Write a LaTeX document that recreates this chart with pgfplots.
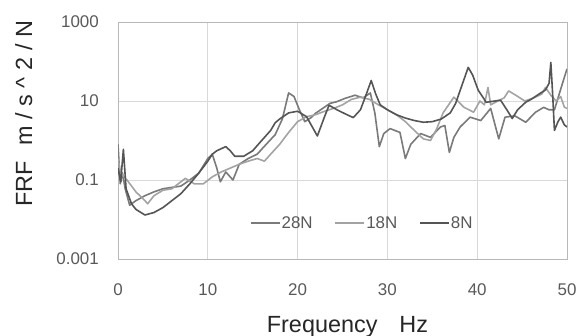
\documentclass[border=0pt]{standalone}
\usepackage{pgfplots}
\pgfplotsset{compat=1.18}
\usepackage{fontspec}
\setmainfont{Liberation Sans}
\definecolor{cA}{HTML}{7A7A7A}
\definecolor{cB}{HTML}{A3A3A3}
\definecolor{cC}{HTML}{555555}
\definecolor{gridc}{HTML}{D9D9D9}
\definecolor{tickc}{HTML}{595959}
\begin{document}
\begin{tikzpicture}
\useasboundingbox (0,0) rectangle (579bp,336bp);
\begin{axis}[
  at={(118bp,77bp)}, anchor=south west,
  scale only axis, width=449bp, height=237bp,
  ymode=log, xmin=0, xmax=50, ymin=0.001, ymax=1000,
  xtick={0,10,20,30,40,50},
  ytick={0.001,0.1,10,1000},
  yticklabels={0.001,0.1,10,1000},
  minor ytick={}, 
  major tick length=0pt,
  grid=major, major grid style={gridc, line width=0.8bp},
  axis line style={gridc!85!black, line width=0.8bp},
  /pgf/number format/assume math mode=true,
  tick label style={font=\fontsize{17}{18}\selectfont, text=tickc},
  yticklabel style={anchor=east, inner sep=0pt, xshift=-19bp},
  xticklabel style={anchor=north, inner sep=0pt, yshift=-24bp},
  xlabel={Frequency\hspace{22bp}Hz},
  ylabel={FRF\hspace{16bp}{\addfontfeature{LetterSpace=28}m/s\^{}2/N}},
  label style={font=\fontsize{23.5}{24}\selectfont, text=black!85},
  xlabel style={at={(axis description cs:0.5,0)}, anchor=base, yshift=-73bp, xshift=5bp},
  ylabel style={at={(axis description cs:-0.1915,0.612)}, anchor=base},
  legend columns=3,
  legend style={draw=none, fill=none, at={(axis description cs:0.543,0.152)}, anchor=center,
    font=\fontsize{17}{18}\selectfont, text=tickc,
    nodes={inner sep=1bp},
    /tikz/every even column/.append style={column sep=21bp}},
  legend image code/.code={\draw[#1] (0bp,0bp) -- (29bp,0bp);},
  every axis plot/.append style={line width=1.6bp, line join=round},
]
\addplot[cA] coordinates {
(0,0.8)(0.25,0.08)(0.5,0.15)(0.8,0.06)(1.3,0.023)(2,0.03)(3,0.04)(4,0.05)(5,0.06)(6,0.065)(7,0.07)(8,0.1)(9,0.15)(10,0.35)(10.5,0.45)(11,0.2)(11.4,0.09)(12,0.16)(12.8,0.1)(13.5,0.25)(14.5,0.35)(15.5,0.45)(16.5,0.8)(17.5,1.4)(18.3,3.5)(19,16)(19.6,13)(20.2,6)(20.8,3)(21.5,3.8)(22,4.9)(23,7)(23.6,8.7)(24.3,9.5)(25.3,11.7)(26.4,14)(27.3,12)(28.1,16)(28.6,5)(29.1,0.7)(29.6,1.5)(30.3,2.0)(31.4,1.6)(32,0.35)(32.6,0.8)(33.7,1.5)(34.8,1.2)(35.9,2.2)(36.4,2.4)(36.9,0.5)(37.4,1.2)(38.1,2.2)(39.2,3.9)(40.4,3.2)(41.5,6.5)(42.4,1.1)(43.1,3.9)(44.2,4.2)(45.4,2.9)(46.5,5.2)(47.4,6.9)(48,6)(48.6,6)(49.3,20)(50,65)
};
\addlegendentry{28N}
\addplot[cB] coordinates {
(0,0.35)(0.3,0.15)(1,0.1)(2,0.05)(3,0.03)(3.3,0.025)(4,0.04)(5,0.055)(6,0.06)(7,0.09)(7.5,0.11)(8.5,0.08)(9.5,0.08)(10.5,0.12)(11.5,0.16)(12.5,0.2)(13.5,0.25)(14.5,0.3)(15.5,0.35)(16.3,0.3)(17,0.45)(18,0.8)(19,1.6)(20,3)(21,4)(22,4.5)(23,5.5)(24,6.5)(25,8)(26,11)(27,12.5)(28,11)(29,8)(30,6)(31,4.5)(32,3)(33,1.8)(34,1.1)(34.8,1.0)(35.5,2)(36.2,5)(37.4,12.5)(38.5,7)(39.6,5.2)(40.3,10)(40.8,8)(41.2,22)(41.5,8)(42.3,10)(43,12)(43.5,18)(44.3,14)(45.3,10)(46.3,12)(47.2,15)(47.6,22)(48.2,14)(48.8,10)(49.3,13)(49.7,7)(50,6.5)
};
\addlegendentry{18N}
\addplot[cC] coordinates {
(0,0.2)(0.3,0.09)(0.6,0.6)(0.9,0.06)(1.5,0.025)(2,0.018)(3,0.013)(4,0.015)(5,0.02)(6,0.03)(7,0.045)(8,0.08)(9,0.15)(10,0.3)(10.5,0.45)(11,0.55)(12,0.7)(12.5,0.55)(13,0.4)(14,0.4)(15,0.55)(16,1)(17,1.8)(17.5,2.8)(18,3.5)(19,5)(20,5.5)(21,4)(22.2,1.3)(23,4)(23.5,7.8)(24.5,5.8)(25.5,4.5)(26.2,3.8)(27,6)(27.5,12)(28.2,33)(28.7,15)(29.2,8)(30,6)(31,4.5)(32,3.7)(33,3.2)(34,2.9)(35,3)(36,3.5)(37,5)(37.6,8.7)(38.3,25)(39,71)(39.5,45)(40.1,19)(41,9.3)(42,10)(42.6,10.5)(43.3,6)(43.9,3.6)(44.5,6)(45.4,9.3)(46,11)(47,15.6)(47.6,19)(48,28)(48.2,95)(48.4,15)(48.6,1.8)(49,3)(49.3,3.9)(49.7,2.5)(50,2.2)
};
\addlegendentry{8N}
\end{axis}
\end{tikzpicture}
\end{document}
